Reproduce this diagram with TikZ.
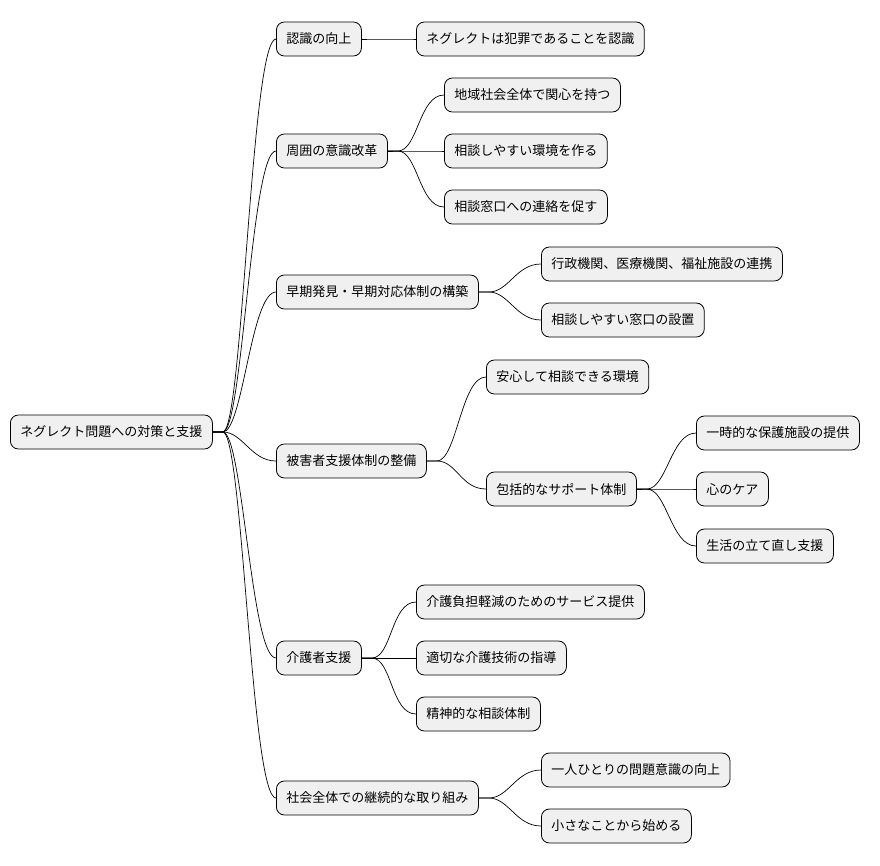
\documentclass[tikz,border=0pt]{standalone}
\usepackage{fontspec}
\setmainfont{Noto Sans CJK JP}
\begin{document}
\begin{tikzpicture}[x=1pt,y=-1pt,
  box/.style={draw=black,line width=0.8pt,fill=black!6,rounded corners=8pt,minimum height=34pt,inner xsep=10pt,inner ysep=0pt,font=\fontsize{13}{15}\selectfont,anchor=west},
  link/.style={draw=black,line width=0.7pt}]
\useasboundingbox (0,0) rectangle (880,865);
\node[box] (r) at (10,432) {ネグレクト問題への対策と支援};
\node[box] (a) at (276,39) {認識の向上};
\node[box] (b) at (276,151) {周囲の意識改革};
\node[box] (c) at (276,292) {早期発見・早期対応体制の構築};
\node[box] (d) at (276,461) {被害者支援体制の整備};
\node[box] (e) at (276,658) {介護者支援};
\node[box] (f) at (276,798) {社会全体での継続的な取り組み};
\node[box] (a1) at (416,39) {ネグレクトは犯罪であることを認識};
\node[box] (b1) at (444,95) {地域社会全体で関心を持つ};
\node[box] (b2) at (444,151) {相談しやすい環境を作る};
\node[box] (b3) at (444,207) {相談窓口への連絡を促す};
\node[box] (c1) at (541,264) {行政機関、医療機関、福祉施設の連携};
\node[box] (c2) at (541,320) {相談しやすい窓口の設置};
\node[box] (d1) at (486,377) {安心して相談できる環境};
\node[box] (d2) at (486,489) {包括的なサポート体制};
\node[box] (d21) at (696,433) {一時的な保護施設の提供};
\node[box] (d22) at (696,489) {心のケア};
\node[box] (d23) at (696,546) {生活の立て直し支援};
\node[box] (e1) at (416,602) {介護負担軽減のためのサービス提供};
\node[box] (e2) at (416,658) {適切な介護技術の指導};
\node[box] (e3) at (416,714) {精神的な相談体制};
\node[box] (f1) at (541,770) {一人ひとりの問題意識の向上};
\node[box] (f2) at (541,826) {小さなことから始める};
\foreach \p/\c in {r/a,r/b,r/c,r/d,r/e,r/f,a/a1,b/b1,b/b2,b/b3,c/c1,c/c2,d/d1,d/d2,d2/d21,d2/d22,d2/d23,e/e1,e/e2,e/e3,f/f1,f/f2}
  \draw[link] (\p.east) -- ++(10,0) .. controls +(20,0) and +(-25,0) .. (\c.west);
\end{tikzpicture}
\end{document}
